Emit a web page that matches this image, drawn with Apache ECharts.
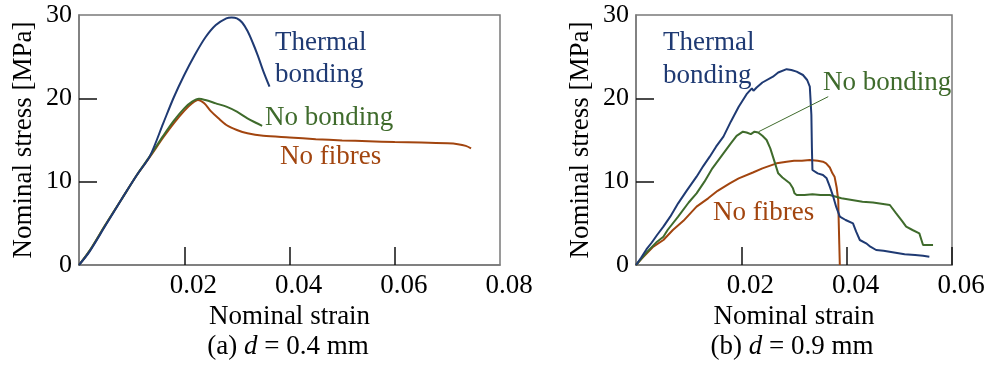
<!DOCTYPE html>
<html>
<head>
<meta charset="utf-8">
<script src="https://cdn.jsdelivr.net/npm/echarts@6/dist/echarts.min.js"></script>
<style>
  html, body { margin: 0; padding: 0; background: #fff; }
  #chart { width: 1000px; height: 367px; }
</style>
</head>
<body>
<div id="chart"></div>
<script>
// (a) d = 0.4 mm  -- [strain, stress MPa]
const thermalA = [
  [0, 0], [0.002, 1.6], [0.005, 4.7], [0.008, 7.8], [0.011, 10.8], [0.0135, 13.1],
  [0.016, 17.0], [0.018, 20.1], [0.020, 22.8], [0.022, 25.2], [0.024, 27.3],
  [0.026, 28.8], [0.028, 29.6], [0.029, 29.7], [0.030, 29.6], [0.031, 29.1],
  [0.032, 28.1], [0.033, 26.7], [0.034, 25.1], [0.035, 23.3], [0.0362, 21.4]
];
const noBondA = [
  [0, 0], [0.002, 1.7], [0.005, 4.8], [0.008, 7.8], [0.011, 10.8], [0.0135, 13.1],
  [0.016, 15.5], [0.018, 17.3], [0.020, 18.8], [0.0215, 19.6], [0.0228, 19.95],
  [0.024, 19.8], [0.026, 19.4], [0.028, 19.0], [0.030, 18.4], [0.032, 17.6],
  [0.0335, 17.1], [0.0348, 16.7]
];
const noFibreA = [
  [0, 0], [0.002, 1.7], [0.005, 4.8], [0.008, 7.8], [0.011, 10.8], [0.0135, 13.0],
  [0.016, 15.3], [0.018, 17.0], [0.020, 18.5], [0.0215, 19.4], [0.0226, 19.8],
  [0.0238, 19.4], [0.025, 18.5], [0.0265, 17.6], [0.028, 16.8], [0.030, 16.2],
  [0.032, 15.8], [0.035, 15.5], [0.040, 15.3], [0.045, 15.1], [0.050, 14.95],
  [0.055, 14.85], [0.060, 14.75], [0.065, 14.7], [0.070, 14.6], [0.072, 14.5],
  [0.0735, 14.3], [0.0745, 14.0]
];

// (b) d = 0.9 mm
const thermalB = [
  [0, 0], [0.001, 0.9], [0.002, 1.9], [0.003, 2.7], [0.004, 3.6], [0.0052, 4.6],
  [0.0065, 5.8], [0.008, 7.4], [0.0096, 8.9], [0.0115, 10.6], [0.0128, 11.9],
  [0.014, 13.0], [0.0152, 14.2], [0.0166, 15.4], [0.018, 17.2], [0.0195, 19.0],
  [0.021, 20.5], [0.022, 21.2], [0.0223, 20.9], [0.0229, 21.3], [0.024, 21.9],
  [0.026, 22.6], [0.027, 23.1], [0.0286, 23.5], [0.0295, 23.4], [0.0305, 23.2],
  [0.0317, 22.8], [0.0325, 22.2], [0.033, 21.4], [0.0333, 18.0], [0.0334, 14.0],
  [0.0335, 11.4], [0.0345, 11.0], [0.0355, 10.8], [0.0362, 10.4], [0.0368, 9.4],
  [0.0374, 8.3], [0.0380, 7.0], [0.0387, 5.8], [0.0398, 5.4], [0.0412, 5.0],
  [0.0418, 4.0], [0.0425, 3.0], [0.0437, 2.6], [0.0445, 2.2], [0.0456, 1.8],
  [0.0470, 1.7], [0.0490, 1.5], [0.0510, 1.3], [0.0530, 1.2], [0.0545, 1.1],
  [0.0557, 1.0]
];
const noBondB = [
  [0, 0], [0.002, 1.5], [0.004, 2.8], [0.0052, 3.4], [0.006, 4.2], [0.008, 5.8],
  [0.010, 7.5], [0.0115, 8.6], [0.013, 10.0], [0.0145, 11.6], [0.0166, 13.4],
  [0.018, 14.6], [0.0191, 15.5], [0.0203, 16.0], [0.021, 15.9], [0.0218, 15.7],
  [0.0225, 16.0], [0.0232, 15.9], [0.024, 15.5], [0.0248, 15.0], [0.0255, 14.0],
  [0.026, 13.0], [0.027, 11.0], [0.0278, 10.5], [0.0292, 9.8], [0.0298, 9.2],
  [0.0301, 8.6], [0.0305, 8.4], [0.032, 8.4], [0.0335, 8.5], [0.035, 8.4],
  [0.0368, 8.4], [0.039, 8.0], [0.041, 7.8], [0.043, 7.6], [0.045, 7.5],
  [0.0482, 7.2], [0.0494, 6.2], [0.0505, 5.3], [0.0513, 4.6], [0.0525, 4.2],
  [0.0538, 3.8], [0.0542, 3.0], [0.0545, 2.4], [0.0555, 2.4], [0.0564, 2.4]
];
const noFibreB = [
  [0, 0], [0.001, 0.7], [0.0033, 2.2], [0.0052, 3.0], [0.007, 4.2], [0.009, 5.3],
  [0.0115, 7.0], [0.0137, 8.0], [0.0155, 8.9], [0.0178, 9.8], [0.0195, 10.4],
  [0.0222, 11.1], [0.024, 11.6], [0.0267, 12.2], [0.0286, 12.4], [0.030, 12.5],
  [0.0315, 12.5], [0.033, 12.6], [0.0345, 12.5], [0.0355, 12.4], [0.0361, 12.2],
  [0.0368, 11.7], [0.0373, 11.0], [0.0377, 10.6], [0.0381, 9.3], [0.0384, 7.8],
  [0.0385, 5.0], [0.0386, 2.5], [0.0387, 0]
];

const stressTicks = [10, 20];
const strainTicks = [0.02, 0.04, 0.06];
// leader line from the "No bonding" label to the (b) curve
const leaderB = [[0.0233, 16.0], [0.0365, 20.2]];

const BLUE = "#1f3a73";
const GREEN = "#3f6b2c";
const BROWN = "#a2450f";
const FONT = "'Liberation Serif', 'Times New Roman', Tinos, 'DejaVu Serif', serif";
const FS = 27;      // names, notes, captions
const FS_TICK = 26; // tick labels

const chart = echarts.init(document.getElementById("chart"), null, { renderer: "canvas" });

const xAxisBase = (gridIndex, max) => ({
  gridIndex,
  type: "value",
  min: 0,
  max,
  interval: 0.02,
  name: "Nominal strain",
  nameLocation: "middle",
  nameGap: 35,
  nameTextStyle: { fontFamily: FONT, fontSize: FS, color: "#000" },
  axisLine: { lineStyle: { color: "#7a7a7a", width: 1.5 } },
  axisTick: { inside: true, length: 18, customValues: strainTicks, lineStyle: { color: "#111", width: 1.5 } },
  axisLabel: {
    margin: 7,
    padding: [0, 0, 0, 18],
    fontFamily: FONT,
    fontSize: FS_TICK + 1,
    color: "#000",
    formatter: (v) => (v === 0 ? "" : v.toFixed(2)),
  },
  splitLine: { show: false },
});

const yAxisBase = (gridIndex) => ({
  gridIndex,
  type: "value",
  min: 0,
  max: 30,
  interval: 10,
  name: "Nominal stress [MPa]",
  nameLocation: "middle",
  nameRotate: 90,
  nameGap: 42,
  nameTextStyle: { fontFamily: FONT, fontSize: FS, color: "#000" },
  axisLine: { show: true, lineStyle: { color: "#7a7a7a", width: 1.5 } },
  axisTick: { inside: true, length: 18, customValues: stressTicks, lineStyle: { color: "#111", width: 1.5 } },
  axisLabel: { margin: 7, padding: [6, 0, 0, 0], fontFamily: FONT, fontSize: FS_TICK, color: "#000" },
  splitLine: { show: false },
});

const line = (data, color, xi, smooth) => ({
  type: "line",
  xAxisIndex: xi,
  yAxisIndex: xi,
  data,
  smooth: smooth ? 0.3 : false,
  symbol: "none",
  lineStyle: { color, width: 2 },
  silent: true,
});

const txt = (x, y, text, color) => ({
  type: "text",
  left: x,
  top: y - FS / 2,
  style: { text, fill: color, fontFamily: FONT, fontSize: FS },
});

const caption = (cx, label, val) => ({
  type: "text",
  x: cx,
  y: 347,
  style: {
    text: "{n|" + label + " }{i|d}{n| = " + val + " mm}",
    align: "center",
    verticalAlign: "middle",
    rich: {
      n: { fontFamily: FONT, fontSize: FS, fill: "#000" },
      i: { fontFamily: FONT, fontSize: FS, fontStyle: "italic", fill: "#000" },
    },
  },
});

const option = {
  animation: false,
  textStyle: { fontFamily: FONT },
  grid: [
    { left: 79, right: 500, top: 15, bottom: 102, show: true, borderColor: "#7a7a7a", borderWidth: 1.5 },
    { left: 636, right: 48, top: 15, bottom: 102, show: true, borderColor: "#7a7a7a", borderWidth: 1.5 },
  ],
  xAxis: [xAxisBase(0, 0.08), xAxisBase(1, 0.06)],
  yAxis: [yAxisBase(0), yAxisBase(1)],
  series: [
    line(noFibreA, BROWN, 0, true),
    line(noBondA, GREEN, 0, true),
    line(thermalA, BLUE, 0, true),
    line(noFibreB, BROWN, 1, false),
    Object.assign(line(noBondB, GREEN, 1, false), {
      markLine: {
        silent: true,
        symbol: "none",
        label: { show: false },
        lineStyle: { color: GREEN, width: 1, type: "solid" },
        data: [[{ coord: leaderB[0] }, { coord: leaderB[1] }]],
      },
    }),
    line(thermalB, BLUE, 1, false),
  ],
  graphic: [
    txt(275, 43, "Thermal", BLUE),
    txt(275, 75, "bonding", BLUE),
    txt(265, 118, "No bonding", GREEN),
    txt(280, 157, "No fibres", BROWN),
    txt(663, 43, "Thermal", BLUE),
    txt(663, 76, "bonding", BLUE),
    txt(823, 83, "No bonding", GREEN),
    txt(713, 213, "No fibres", BROWN),
    caption(288, "(a)", "0.4"),
    caption(792, "(b)", "0.9"),
  ],
};

chart.setOption(option);

window.addEventListener("resize", () => chart.resize());
</script>
</body>
</html>
